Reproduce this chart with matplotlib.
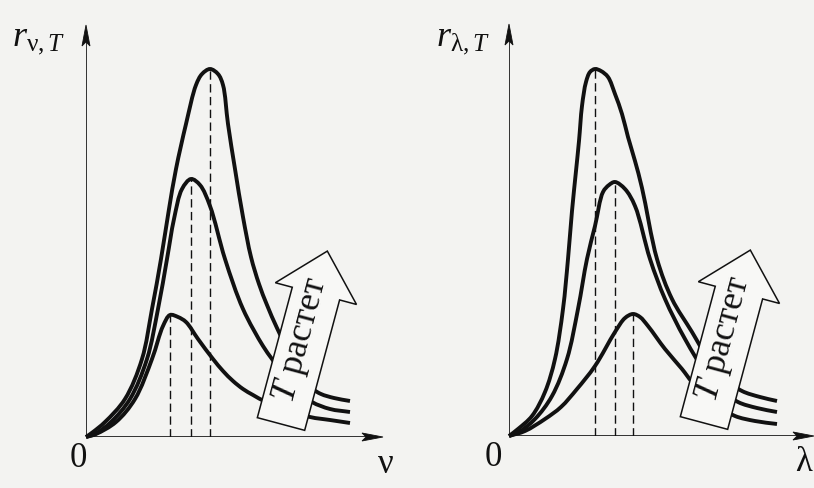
import numpy as np
import matplotlib
matplotlib.use("Agg")
import matplotlib.pyplot as plt
from matplotlib.path import Path
from matplotlib.patches import PathPatch, Polygon

# ---------------- data (arbitrary units) ----------------
# Left panel: r_{nu,T} vs nu, three temperatures T1 < T2 < T3
nu_T1_x = [0, 10, 30, 49, 66, 77, 84, 92, 100, 112, 127, 137, 147, 157, 167, 180, 199, 224, 244, 264]
nu_T1_y = [0, 3, 15, 38, 78, 111, 122, 120, 115, 98, 78, 66, 56, 48, 42, 35, 28, 20, 17, 14]
nu_T2_x = [0, 9, 25, 44, 61, 72, 81, 88, 96, 105, 114, 124, 139, 157, 177, 186, 199, 212, 226, 244, 264]
nu_T2_y = [0, 3, 15, 38, 78, 128, 178, 218, 248, 258, 252, 231, 178, 128, 91, 78, 60, 46, 35, 28, 25]
nu_T3_x = [0, 7, 19, 39, 56, 66, 75, 83, 90, 100, 110, 116, 124, 132, 137, 142, 149, 157, 165, 173, 181, 191, 204, 216, 227, 235, 248, 264]
nu_T3_y = [0, 5, 15, 38, 78, 128, 178, 228, 268, 313, 352, 363, 368, 363, 352, 313, 268, 220, 180, 153, 132, 109, 83, 63, 48, 43, 39, 36]

# Right panel: r_{lambda,T} vs lambda
lam_T1_x = [0, 16, 36, 52, 68, 86, 106, 116, 124, 131, 139, 156, 173, 183, 196, 211, 226, 246, 268]
lam_T1_y = [0, 5, 17, 29, 47, 70, 104, 118, 122, 119, 110, 87, 67, 54, 41, 29, 20, 15, 12]
lam_T2_x = [0, 10, 26, 43, 58, 69, 78, 86, 94, 100, 106, 116, 126, 141, 156, 176, 199, 214, 229, 248, 268]
lam_T2_y = [0, 4, 17, 40, 77, 127, 177, 210, 244, 251, 254, 247, 230, 177, 137, 97, 60, 45, 34, 28, 24]
lam_T3_x = [0, 9, 23, 36, 46, 54, 59, 63, 67, 70, 73, 77, 81, 86, 92, 99, 106, 113, 119, 126, 133, 148, 163, 183, 201, 216, 233, 251, 268]
lam_T3_y = [0, 7, 20, 44, 77, 127, 177, 225, 265, 295, 330, 354, 364, 367, 365, 359, 342, 322, 299, 275, 248, 177, 137, 104, 74, 57, 45, 39, 35]

arrow_text = r"$T$ растет"
left_ylabel = r"$r_{\mathrm{\nu},T}$"
right_ylabel = r"$r_{\mathrm{\lambda},T}$"
left_xlabel = "ν"
right_xlabel = "λ"
zero_label = "0"

# ---------------- style ----------------
BG = "#f3f3f1"
INK = "#111111"
plt.rcParams["font.family"] = ["Liberation Serif", "DejaVu Serif"]
plt.rcParams["mathtext.fontset"] = "custom"
plt.rcParams["mathtext.rm"] = "Liberation Serif"
plt.rcParams["mathtext.it"] = "Liberation Serif:italic"
plt.rcParams["mathtext.bf"] = "Liberation Serif:bold"

W, H = 814, 489
fig = plt.figure(figsize=(W / 100, H / 100), dpi=100, facecolor=BG)


def smooth_path(xs, ys, alpha=0.5):
    """Centripetal Catmull-Rom through the given points, as a Bezier path."""
    P = np.column_stack([xs, ys]).astype(float)
    P = np.vstack([2 * P[0] - P[1], P, 2 * P[-1] - P[-2]])
    d = np.linalg.norm(np.diff(P, axis=0), axis=1) ** alpha
    d[d == 0] = 1e-6
    t = np.concatenate([[0], np.cumsum(d)])
    verts = [P[1]]
    codes = [Path.MOVETO]
    for i in range(1, len(P) - 2):
        p0, p1, p2, p3 = P[i - 1], P[i], P[i + 1], P[i + 2]
        t0, t1, t2, t3 = t[i - 1], t[i], t[i + 1], t[i + 2]
        m1 = (t2 - t1) * ((p1 - p0) / (t1 - t0) - (p2 - p0) / (t2 - t0) + (p2 - p1) / (t2 - t1))
        m2 = (t2 - t1) * ((p2 - p1) / (t2 - t1) - (p3 - p1) / (t3 - t1) + (p3 - p2) / (t3 - t2))
        verts += [p1 + m1 / 3.0, p2 - m2 / 3.0, p2]
        codes += [Path.CURVE4] * 3
    return Path(verts, codes)


def block_arrow(ax, base, theta_deg, text):
    t = np.deg2rad(theta_deg)
    u = np.array([np.sin(t), np.cos(t)])
    nrm = np.array([np.cos(t), -np.sin(t)])
    c = np.array(base, float)
    bw, hw, bl, hl = 24.5, 42.0, 135.0, 44.0
    pts = [c - bw * nrm, c + bw * nrm, c + bl * u + bw * nrm, c + bl * u + hw * nrm,
           c + (bl + hl) * u, c + bl * u - hw * nrm, c + bl * u - bw * nrm]
    ax.add_patch(Polygon(pts, closed=True, facecolor="#f8f8f6", edgecolor=INK,
                         linewidth=1.1, joinstyle="miter", zorder=5, clip_on=False))
    tc = c + 87 * u - 2 * nrm
    ax.text(tc[0], tc[1], text, rotation=90 - theta_deg, rotation_mode="anchor",
            ha="center", va="center", fontsize=26, color=INK, zorder=6)


def panel(rect, curves, xmax, ylabel, ylab_pos, xlabel, xlab_pos, zero_pos):
    ax = fig.add_axes(rect)
    ax.set_xlim(0, rect[2] * W)
    ax.set_ylim(0, rect[3] * H)
    ax.axis("off")
    ax.patch.set_alpha(0)
    # axes with arrowheads
    ax.plot([0, 0], [0, 395], color=INK, lw=1.2, solid_capstyle="butt", zorder=3)
    ax.add_patch(Polygon([[-4, 391], [0, 412], [4, 391], [0, 395]], closed=True,
                         facecolor=INK, edgecolor=INK, lw=0.6, zorder=3, clip_on=False))
    ax.plot([0, xmax - 16], [0, 0], color=INK, lw=1.2, solid_capstyle="butt", zorder=3)
    ax.add_patch(Polygon([[xmax - 21, 4], [xmax, 0], [xmax - 21, -4], [xmax - 17, 0]],
                         closed=True, facecolor=INK, edgecolor=INK, lw=0.6, zorder=3,
                         clip_on=False))
    for xs, ys in curves:
        ax.add_patch(PathPatch(smooth_path(xs, ys), fill=False, edgecolor=INK,
                               linewidth=2.8, capstyle="butt", zorder=4, clip_on=False))
        k = int(np.argmax(ys))
        ax.plot([xs[k], xs[k]], [0, ys[k]], color=INK, lw=1.0, dashes=(6, 3.2), zorder=2)
    block_arrow(ax, (195, 13), 15, arrow_text)
    ax.text(ylab_pos[0], ylab_pos[1], ylabel, ha="left", va="baseline", fontsize=26,
            color=INK, clip_on=False)
    ax.text(xlab_pos[0], xlab_pos[1], xlabel, ha="center", va="center", fontsize=25,
            color=INK, clip_on=False)
    ax.text(zero_pos[0], zero_pos[1], zero_label, ha="center", va="center", fontsize=25,
            color=INK, clip_on=False)
    return ax


panel([86 / W, (H - 438) / H, 300 / W, 415 / H],
      [(nu_T1_x, nu_T1_y), (nu_T2_x, nu_T2_y), (nu_T3_x, nu_T3_y)],
      297, left_ylabel, (-74, 393), left_xlabel, (300, -27), (-8, -21))
panel([509 / W, (H - 437) / H, 305 / W, 415 / H],
      [(lam_T1_x, lam_T1_y), (lam_T2_x, lam_T2_y), (lam_T3_x, lam_T3_y)],
      305, right_ylabel, (-73, 392), right_xlabel, (295, -26), (-16, -21))

fig.savefig("out.png", dpi=100, facecolor=BG)
